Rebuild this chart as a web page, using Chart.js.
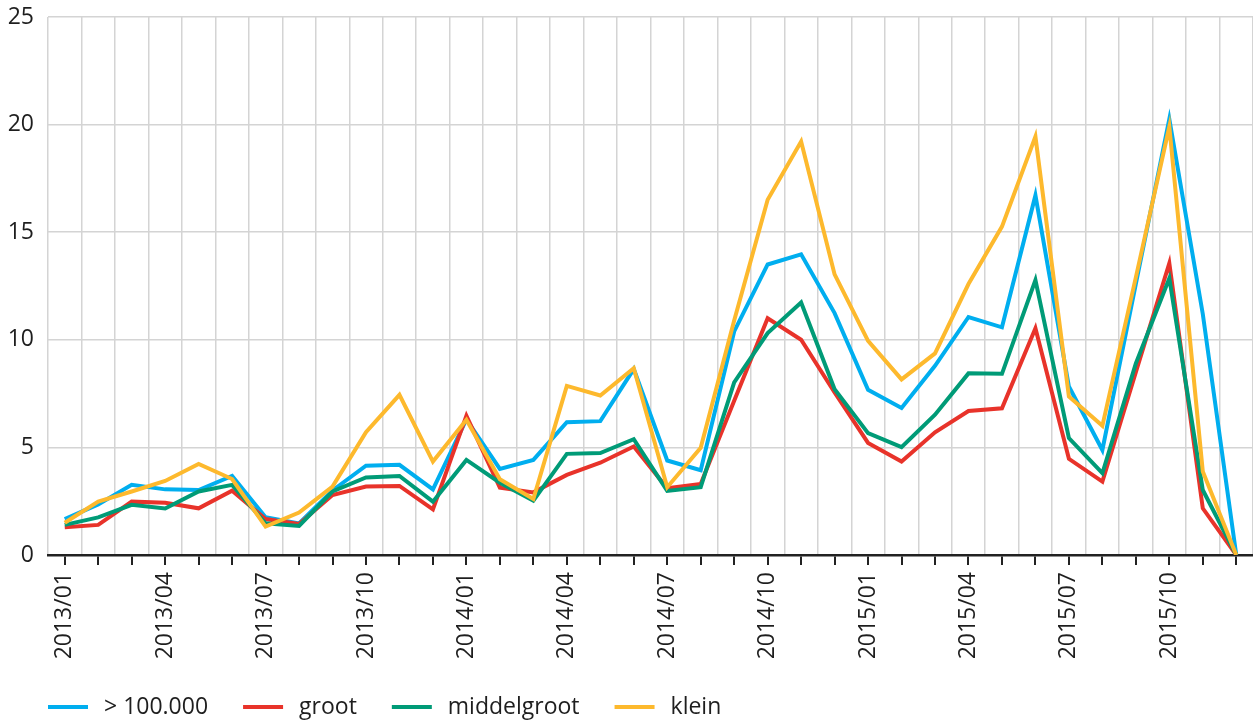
<!DOCTYPE html>
<html>
<head>
<meta charset="utf-8">
<script src="https://cdn.jsdelivr.net/npm/chart.js@4.4.1/dist/chart.umd.min.js"></script>
<style>
  html, body { margin: 0; padding: 0; background: #ffffff; }
  #wrap { width: 1253px; height: 722px; position: relative; }
</style>
</head>
<body>
<div id="wrap"><canvas id="c" width="1253" height="722"></canvas></div>
<script>
const months = [
  "2013/01","2013/02","2013/03","2013/04","2013/05","2013/06","2013/07","2013/08","2013/09","2013/10","2013/11","2013/12",
  "2014/01","2014/02","2014/03","2014/04","2014/05","2014/06","2014/07","2014/08","2014/09","2014/10","2014/11","2014/12",
  "2015/01","2015/02","2015/03","2015/04","2015/05","2015/06","2015/07","2015/08","2015/09","2015/10","2015/11","2015/12"
];
const seriesNames = ["> 100.000", "groot", "middelgroot", "klein"];
const zeerGroot = [1.67,2.35,3.26,3.05,3.02,3.67,1.75,1.47,3.0,4.15,4.19,3.05,6.3,4.0,4.42,6.17,6.22,8.64,4.39,3.94,10.39,13.5,13.97,11.24,7.68,6.83,8.79,11.06,10.58,16.71,7.83,4.88,12.6,20.25,11.2,0];
const groot = [1.29,1.40,2.48,2.43,2.17,2.99,1.67,1.44,2.79,3.18,3.21,2.12,6.47,3.13,2.91,3.72,4.29,5.04,3.10,3.30,7.17,11.0,10.0,7.55,5.21,4.34,5.70,6.69,6.82,10.54,4.47,3.41,8.5,13.56,2.17,0];
const middelgroot = [1.40,1.75,2.33,2.16,2.95,3.26,1.47,1.35,2.95,3.60,3.67,2.48,4.42,3.36,2.53,4.70,4.74,5.38,2.98,3.15,8.02,10.31,11.73,7.7,5.66,5.01,6.52,8.44,8.42,12.77,5.43,3.80,8.9,12.86,3.02,0];
const klein = [1.50,2.48,2.95,3.44,4.23,3.53,1.32,1.97,3.18,5.71,7.44,4.34,6.28,3.52,2.60,7.86,7.41,8.68,3.15,4.98,10.9,16.51,19.21,13.04,9.95,8.16,9.37,12.59,15.26,19.44,7.36,6.0,12.9,19.9,3.88,0];
const yTicks = [0, 5, 10, 15, 20, 25];

const colors = ["#00aeef", "#e8332a", "#009b77", "#fdb92d"];
const values = [zeerGroot, groot, middelgroot, klein];
const drawOrder = [3, 2, 1, 0];

const FONT = "'Open Sans', 'DejaVu Sans', sans-serif";
const TXT = "#1e1e1e";
const FS = 23;

const bottomLegend = {
  id: 'bottomLegend',
  afterDraw(chart) {
    const ctx = chart.ctx;
    ctx.save();
    ctx.font = FS + "px " + FONT;
    ctx.textBaseline = 'middle';
    ctx.textAlign = 'left';
    let x = 48;
    const y = 707;
    chart.data.datasets.forEach(d => {
      ctx.fillStyle = d.borderColor;
      ctx.fillRect(x, y - 2, 40, 4);
      x += 40 + 16;
      ctx.fillStyle = TXT;
      ctx.fillText(d.label, x, y);
      x += ctx.measureText(d.label).width + 35;
    });
    ctx.restore();
  }
};

new Chart(document.getElementById('c'), {
  type: 'line',
  data: {
    labels: months,
    datasets: seriesNames.map((n, i) => ({
      label: n,
      data: values[i],
      borderColor: colors[i],
      backgroundColor: colors[i],
      borderWidth: 4,
      pointRadius: 0,
      pointHoverRadius: 0,
      tension: 0,
      fill: false,
      order: drawOrder[i]
    }))
  },
  plugins: [bottomLegend],
  options: {
    responsive: false,
    animation: false,
    devicePixelRatio: 1,
    layout: { padding: { left: 0, right: 0, top: 1, bottom: 61 } },
    plugins: {
      tooltip: { enabled: false },
      legend: { display: false }
    },
    scales: {
      x: {
        type: 'category',
        offset: true,
        position: 'bottom',
        border: { display: true, color: '#222222', width: 2.5 },
        grid: {
          display: true,
          drawOnChartArea: false,
          drawTicks: true,
          tickLength: 10,
          color: '#222222',
          lineWidth: 2,
          offset: false
        },
        ticks: {
          autoSkip: false,
          maxRotation: 90,
          minRotation: 90,
          padding: 7,
          color: TXT,
          font: { family: FONT, size: FS },
          callback: function(v, i) { return i % 3 === 0 ? months[i] : ''; }
        },
        afterFit: (s) => { s.height = 106; s.paddingLeft = 0; s.paddingRight = 0; }
      },
      xg: {
        type: 'category',
        offset: true,
        position: 'top',
        labels: months,
        border: { display: false },
        grid: {
          display: true,
          drawOnChartArea: true,
          drawTicks: false,
          color: '#d4d4d4',
          lineWidth: 1.5,
          offset: true
        },
        ticks: { display: false },
        afterFit: (s) => { s.height = 0; s.paddingLeft = 0; s.paddingRight = 0; }
      },
      y: {
        min: 0,
        max: 25,
        border: { display: false },
        grid: { color: '#d4d4d4', lineWidth: 1.5, drawTicks: false },
        afterBuildTicks: (axis) => { axis.ticks = yTicks.map(v => ({ value: v })); },
        afterFit: (s) => { s.width = 48; s.paddingTop = 17; s.paddingBottom = 0; },
        ticks: {
          padding: 14,
          color: TXT,
          font: { family: FONT, size: FS }
        }
      }
    }
  }
});
</script>
</body>
</html>
